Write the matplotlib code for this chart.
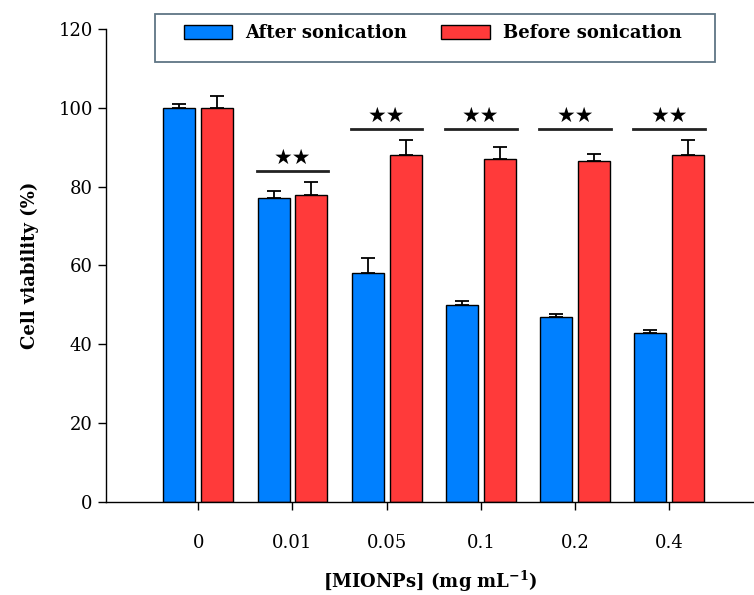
import numpy as np
import matplotlib
matplotlib.use('Agg')
import matplotlib.pyplot as plt
from matplotlib.patches import Rectangle, Patch

plt.rcParams['font.family'] = 'DejaVu Serif'
plt.rcParams['mathtext.fontset'] = 'custom'
plt.rcParams['mathtext.rm'] = 'DejaVu Serif'
plt.rcParams['mathtext.bf'] = 'DejaVu Serif:bold'

# data
conc = ['0', '0.01', '0.05', '0.1', '0.2', '0.4']
after = [100, 77, 58, 50, 47, 43]
after_err = [1.0, 1.9, 4.0, 1.0, 0.8, 0.6]
before = [100, 78, 88, 87, 86.5, 88]
before_err = [2.9, 3.1, 3.8, 3.0, 1.9, 3.8]
sig_height = [None, 84, 94.7, 94.7, 94.7, 94.7]
sig_label = '★★'

blue = '#0080ff'
red = '#ff3a3a'

fig = plt.figure(figsize=(7.54, 5.95), dpi=100)
ax = fig.add_axes([0.1406, 0.1563, 0.8594, 0.795])

x = np.arange(len(conc))
w = 0.34
off = 0.2
ax.bar(x - off, after, w, color=blue, edgecolor='black', linewidth=1, zorder=2)
ax.bar(x + off, before, w, color=red, edgecolor='black', linewidth=1, zorder=2)
ax.errorbar(x - off, after, yerr=[np.zeros(len(x)), after_err], fmt='none',
            ecolor='black', elinewidth=1.3, capsize=5, capthick=1.3, zorder=1)
ax.errorbar(x + off, before, yerr=[np.zeros(len(x)), before_err], fmt='none',
            ecolor='black', elinewidth=1.3, capsize=5, capthick=1.3, zorder=1)

# significance bars
for i, h in enumerate(sig_height):
    if h is None:
        continue
    ax.plot([i - 0.38, i + 0.38], [h, h], color='#222222', lw=2)
    ax.text(i, h + 0.8, sig_label, ha='center', va='bottom', fontsize=15,
            family='DejaVu Sans', color='black')

ax.set_xlim(-0.98, 5.9)
ax.set_ylim(0, 120)
ax.set_yticks(range(0, 121, 20))
ax.set_xticks(x)
ax.set_xticklabels(conc)
ax.tick_params(axis='both', labelsize=13, length=6, width=1, direction='out')
ax.tick_params(axis='x', pad=17)
for s in ['top', 'right']:
    ax.spines[s].set_visible(False)
for s in ['left', 'bottom']:
    ax.spines[s].set_linewidth(1)

ax.set_ylabel('Cell viability (%)', fontsize=13, fontweight='bold', labelpad=14)
ax.set_xlabel(r'[MIONPs] (mg mL$^{\mathbf{-1}}$)', fontsize=13,
              fontweight='bold', labelpad=12)

# legend box
fig.patches.append(Rectangle((0.2056, 0.8958), 0.7427, 0.0807,
                             transform=fig.transFigure, fill=True,
                             facecolor='white', edgecolor='#5f7585',
                             linewidth=1.3, zorder=5))
handles = [Patch(facecolor=blue, edgecolor='black', label='After sonication'),
           Patch(facecolor=red, edgecolor='black', label='Before sonication')]
leg = fig.legend(handles=handles, loc='upper left', bbox_to_anchor=(0.222, 0.987),
                 ncol=2, frameon=False, prop={'weight': 'bold', 'size': 13},
                 handlelength=2.7, handleheight=0.8, columnspacing=1.9,
                 handletextpad=0.7)
leg.set_zorder(6)

fig.savefig('out.png', dpi=100)
